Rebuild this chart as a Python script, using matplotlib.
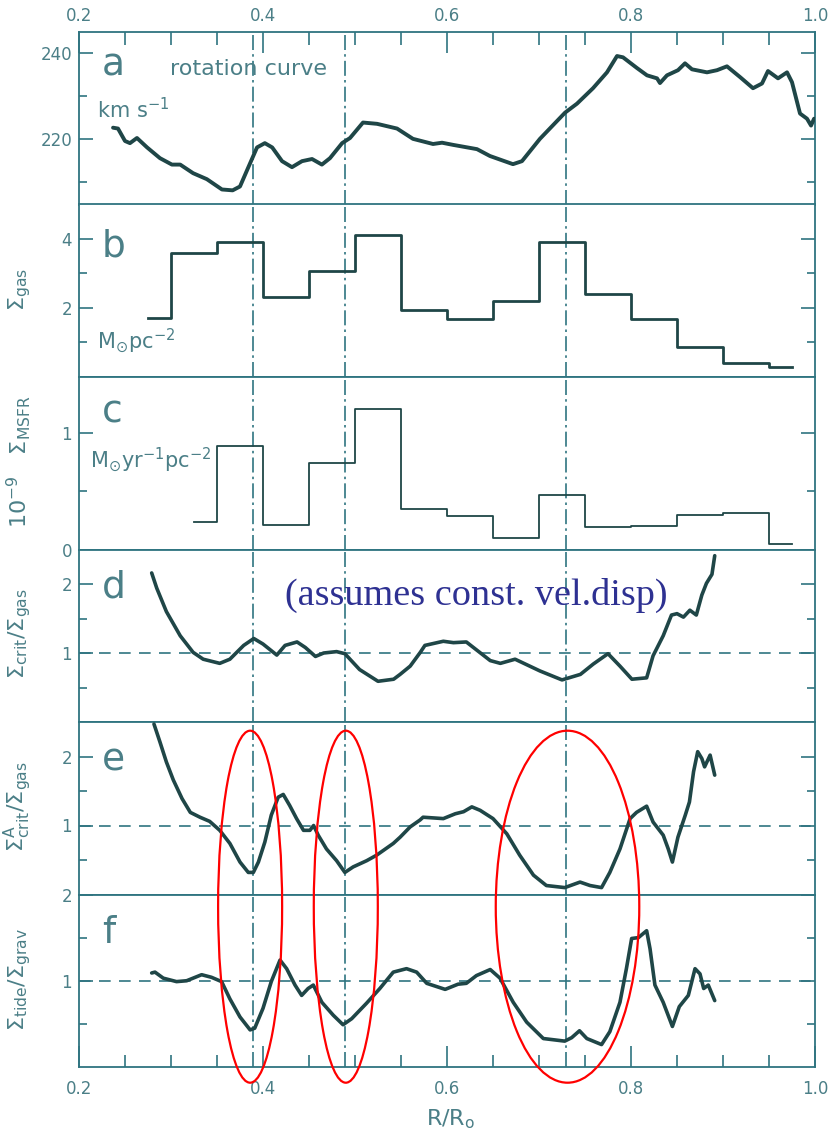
import matplotlib
matplotlib.use('Agg')
import matplotlib.pyplot as plt
from matplotlib.patches import Ellipse
from matplotlib.transforms import blended_transform_factory
from matplotlib.ticker import FixedLocator

# ---------------- data ----------------
# panel a: rotation curve (km/s)
rot_R = [0.237, 0.2424, 0.250, 0.2554, 0.263, 0.274, 0.288, 0.301, 0.310, 0.324, 0.339, 0.3554, 0.367,
         0.375, 0.3837, 0.3935, 0.402, 0.410, 0.4207, 0.4315, 0.4424, 0.4533, 0.464, 0.4728, 0.486,
         0.4946, 0.5087, 0.524, 0.5457, 0.563, 0.5848, 0.5946, 0.6065, 0.6326, 0.6467, 0.6717, 0.6815,
         0.701, 0.7283, 0.7413, 0.7587, 0.7739, 0.7848, 0.7913, 0.8065, 0.8174, 0.8283, 0.8315, 0.8391,
         0.8511, 0.8587, 0.8663, 0.8826, 0.8935, 0.9043, 0.9185, 0.9326, 0.9424, 0.9489, 0.9598, 0.9696,
         0.975, 0.9837, 0.9913, 0.9957, 0.999]
rot_v = [222.6, 222.4, 219.5, 219.0, 220.2, 218.0, 215.5, 214.0, 214.0, 212.0, 210.6, 208.2, 208.0,
         208.9, 213.2, 218.0, 219.0, 218.0, 214.8, 213.4, 214.8, 215.3, 214.0, 215.5, 219.0,
         220.2, 223.8, 223.5, 222.4, 220.0, 218.8, 219.1, 218.6, 217.6, 216.0, 214.1, 214.8,
         220.0, 226.1, 228.2, 231.8, 235.5, 239.3, 239.0, 236.5, 234.8, 234.1, 233.0, 234.8,
         236.0, 237.6, 236.2, 235.5, 236.0, 236.9, 234.4, 231.8, 232.9, 235.8, 234.1, 235.5,
         233.2, 225.9, 224.7, 223.1, 224.7]

# panel b: gas surface density (bin centres, steps)
gas_R = [0.275, 0.325, 0.375, 0.425, 0.475, 0.525, 0.575, 0.625, 0.675, 0.725, 0.775, 0.825, 0.875, 0.925, 0.975]
gas_S = [1.71, 3.58, 3.91, 2.32, 3.07, 4.12, 1.95, 1.68, 2.21, 3.91, 2.40, 1.68, 0.87, 0.41, 0.30]

# panel c: star formation rate surface density
sfr_R = [0.325, 0.375, 0.425, 0.475, 0.525, 0.575, 0.625, 0.675, 0.725, 0.775, 0.825, 0.875, 0.925, 0.975]
sfr_S = [0.237, 0.885, 0.208, 0.742, 1.205, 0.348, 0.285, 0.10, 0.468, 0.19, 0.20, 0.30, 0.31, 0.05]

# panel d: Sigma_crit / Sigma_gas
d_R = [0.279, 0.2845, 0.295, 0.310, 0.324, 0.335, 0.353, 0.364, 0.379, 0.390, 0.400, 0.415, 0.424, 0.437,
       0.446, 0.457, 0.466, 0.480, 0.489, 0.505, 0.525, 0.542, 0.549, 0.560, 0.571, 0.576, 0.596, 0.607,
       0.621, 0.647, 0.658, 0.674, 0.701, 0.725, 0.745, 0.759, 0.775, 0.788, 0.801, 0.817, 0.824, 0.835,
       0.844, 0.850, 0.857, 0.864, 0.871, 0.877, 0.882, 0.888, 0.891]
d_val = [2.16, 1.94, 1.60, 1.25, 1.01, 0.91, 0.85, 0.91, 1.11, 1.21, 1.13, 0.97, 1.11, 1.16,
         1.08, 0.95, 1.00, 1.02, 0.99, 0.76, 0.59, 0.62, 0.69, 0.81, 1.01, 1.11, 1.17, 1.15,
         1.16, 0.89, 0.85, 0.91, 0.74, 0.61, 0.69, 0.84, 0.99, 0.81, 0.62, 0.64, 0.96, 1.25,
         1.55, 1.57, 1.52, 1.62, 1.55, 1.84, 2.01, 2.14, 2.41]

# panel e: Sigma^A_crit / Sigma_gas
e_R = [0.2815, 0.288, 0.295, 0.3025, 0.312, 0.321, 0.3315, 0.342, 0.353, 0.364, 0.375, 0.384, 0.3895,
       0.395, 0.402, 0.409, 0.4165, 0.422, 0.429, 0.4365, 0.444, 0.451, 0.455, 0.460, 0.469, 0.480,
       0.489, 0.498, 0.5127, 0.5235, 0.5416, 0.549, 0.560, 0.5707, 0.574, 0.596, 0.609, 0.618, 0.627,
       0.636, 0.650, 0.665, 0.679, 0.694, 0.708, 0.728, 0.7446, 0.7555, 0.768, 0.777, 0.788, 0.799,
       0.806, 0.817, 0.824, 0.835, 0.8405, 0.845, 0.851, 0.859, 0.8635, 0.868, 0.8725, 0.877, 0.880,
       0.886, 0.891]
e_val = [2.47, 2.21, 1.92, 1.66, 1.39, 1.19, 1.12, 1.06, 0.93, 0.74, 0.47, 0.32, 0.32,
         0.47, 0.76, 1.15, 1.41, 1.45, 1.29, 1.10, 0.93, 0.93, 1.00, 0.86, 0.66, 0.49,
         0.32, 0.40, 0.49, 0.57, 0.74, 0.83, 0.98, 1.08, 1.12, 1.10, 1.17, 1.20, 1.27,
         1.22, 1.10, 0.88, 0.57, 0.28, 0.13, 0.10, 0.18, 0.13, 0.10, 0.32, 0.66, 1.10,
         1.19, 1.28, 1.05, 0.86, 0.66, 0.47, 0.83, 1.15, 1.34, 1.78, 2.07, 1.97, 1.85,
         2.02, 1.73]

# panel f: Sigma_tide / Sigma_grav
f_R = [0.279, 0.2826, 0.2916, 0.306, 0.317, 0.3333, 0.344, 0.355, 0.364, 0.375, 0.386, 0.391, 0.400,
       0.409, 0.4185, 0.4257, 0.4348, 0.442, 0.449, 0.4547, 0.464, 0.4764, 0.487, 0.4964, 0.5126,
       0.527, 0.5416, 0.556, 0.567, 0.578, 0.598, 0.612, 0.621, 0.632, 0.647, 0.6576, 0.672, 0.6866,
       0.7047, 0.728, 0.7355, 0.744, 0.752, 0.768, 0.777, 0.788, 0.795, 0.8007, 0.808, 0.817, 0.8207,
       0.826, 0.835, 0.845, 0.8525, 0.8623, 0.8696, 0.875, 0.879, 0.884, 0.891]
f_val = [1.09, 1.10, 1.03, 0.99, 1.00, 1.07, 1.04, 0.99, 0.79, 0.58, 0.43, 0.45, 0.68,
         0.99, 1.24, 1.14, 0.95, 0.83, 0.91, 0.95, 0.75, 0.60, 0.49, 0.56, 0.74,
         0.91, 1.10, 1.14, 1.10, 0.97, 0.90, 0.96, 0.97, 1.06, 1.13, 1.03, 0.75, 0.52,
         0.33, 0.30, 0.34, 0.42, 0.33, 0.26, 0.41, 0.75, 1.14, 1.49, 1.50, 1.58, 1.37,
         0.95, 0.75, 0.47, 0.70, 0.83, 1.14, 1.08, 0.91, 0.95, 0.77]

vlines_R = [0.389, 0.489, 0.729]
x_major = [0.2, 0.4, 0.6, 0.8, 1.0]
x_labels = ['0.2', '0.4', '0.6', '0.8', '1.0']
x_minor = [0.25, 0.3, 0.35, 0.45, 0.5, 0.55, 0.65, 0.7, 0.75, 0.85, 0.9, 0.95]

# red ellipses: (centre R, width in R)
ell_R = [0.386, 0.490, 0.731]
ell_W = [0.0696, 0.0696, 0.156]

# ---------------- style ----------------
CURVE = '#1f4647'
AXC = '#2f7480'
TXT = '#4b7f87'

W, H = 838, 1133
fig = plt.figure(figsize=(W / 100, H / 100), dpi=100)
left = 79 / W
width = 736 / W
edges = [32, 204.5, 377, 549.5, 722, 894.5, 1067]

ylims = [(204.7, 244.9), (0, 5), (0, 1.48), (0, 2.5), (0, 2.5), (0, 2.0)]
ymaj = [[220, 240], [2, 4], [0, 1], [1, 2], [1, 2], [1, 2]]
ymaj_lab = [['220', '240'], ['2', '4'], ['0', '1'], ['1', '2'], ['1', '2'], ['1', '2']]
ymin = [[210, 230], [1, 3], [0.5], [0.5, 1.5], [0.5, 1.5], [0.5, 1.5]]

axes = []
for i in range(6):
    top, bot = edges[i], edges[i + 1]
    ax = fig.add_axes([left, 1 - bot / H, width, (bot - top) / H])
    ax.set_xlim(0.2, 1.0)
    ax.set_ylim(*ylims[i])
    for sp in ax.spines.values():
        sp.set_color(AXC)
        sp.set_linewidth(1.3)
    ax.yaxis.set_major_locator(FixedLocator(ymaj[i]))
    ax.set_yticklabels(ymaj_lab[i])
    ax.yaxis.set_minor_locator(FixedLocator(ymin[i]))
    ax.tick_params(axis='y', which='both', direction='in', left=True, right=True,
                   color=AXC, labelcolor=TXT, labelsize=12, pad=5, width=1.2)
    ax.tick_params(axis='y', which='major', length=10)
    ax.tick_params(axis='y', which='minor', length=6)
    if i == 0:
        ax.xaxis.tick_top()
        ax.xaxis.set_major_locator(FixedLocator(x_major))
        ax.set_xticklabels(x_labels)
        ax.xaxis.set_minor_locator(FixedLocator(x_minor))
        ax.tick_params(axis='x', which='both', direction='in', top=True, bottom=False,
                       labeltop=True, labelbottom=False, color=AXC, labelcolor=TXT,
                       labelsize=12, pad=5, width=1.2)
        ax.tick_params(axis='x', which='major', length=15)
        ax.tick_params(axis='x', which='minor', length=9)
    elif i == 5:
        ax.xaxis.set_major_locator(FixedLocator(x_major))
        ax.set_xticklabels(x_labels)
        ax.xaxis.set_minor_locator(FixedLocator(x_minor))
        ax.tick_params(axis='x', which='both', direction='in', top=False, bottom=True,
                       color=AXC, labelcolor=TXT, labelsize=12, pad=9, width=1.2)
        ax.tick_params(axis='x', which='major', length=15)
        ax.tick_params(axis='x', which='minor', length=9)
    else:
        ax.set_xticks([])
    for xv in vlines_R:
        ax.axvline(xv, color=AXC, lw=1.2, dashes=(9, 2.5, 1.5, 2.5), zorder=1)
    axes.append(ax)

axa, axb, axc, axd, axe, axf = axes

# curves
axa.plot(rot_R, rot_v, color=CURVE, lw=2.8, solid_joinstyle='round', solid_capstyle='round', zorder=3)
axb.plot(gas_R, gas_S, drawstyle='steps-mid', color=CURVE, lw=2.0, zorder=3)
axc.plot(sfr_R, sfr_S, drawstyle='steps-mid', color=CURVE, lw=1.3, zorder=3)
for ax, xs, ys in [(axd, d_R, d_val), (axe, e_R, e_val), (axf, f_R, f_val)]:
    ax.axhline(1.0, color=AXC, lw=1.2, dashes=(7, 5), zorder=1)
    ax.plot(xs, ys, color=CURVE, lw=2.6, solid_joinstyle='round', solid_capstyle='round', zorder=3)

# panel letters
letters = ['a', 'b', 'c', 'd', 'e', 'f']
base_y = [0.749, 0.70, 0.734, 0.72, 0.72, 0.717]
for ax, l, by in zip(axes, letters, base_y):
    ax.text(0.031, by, l, transform=ax.transAxes, fontsize=27, color=TXT, va='baseline',
            ha='left')

axa.text(0.124, 0.749, 'rotation curve', transform=axa.transAxes, fontsize=16, color=TXT,
         va='baseline', ha='left')
axa.text(0.0245, 0.503, r'km s$^{-1}$', transform=axa.transAxes, fontsize=15, color=TXT,
         va='baseline', ha='left')
axb.text(0.0245, 0.167, r'M$_{\odot}$pc$^{-2}$', transform=axb.transAxes, fontsize=15, color=TXT,
         va='baseline', ha='left')
axc.text(0.015, 0.48, r'M$_{\odot}$yr$^{-1}$pc$^{-2}$', transform=axc.transAxes, fontsize=15,
         color=TXT, va='baseline', ha='left')

# y labels
ylabs = [None, r'$\Sigma_{\rm gas}$', r'$10^{-9}\ \ \ \Sigma_{\rm MSFR}$',
         r'$\Sigma_{\rm crit}/\Sigma_{\rm gas}$', r'$\Sigma^{\rm A}_{\rm crit}/\Sigma_{\rm gas}$',
         r'$\Sigma_{\rm tide}/\Sigma_{\rm grav}$']
for ax, lab in zip(axes, ylabs):
    if lab:
        ax.set_ylabel(lab, fontsize=16, color=TXT)
        ax.yaxis.set_label_coords(-0.062, 0.51)

axf.set_xlabel(r'R/R$_{\rm o}$', fontsize=16, color=TXT)
axf.xaxis.set_label_coords(0.505, -0.237)

# annotation
axd.text(0.28, 0.68, '(assumes const. vel.disp)', transform=axd.transAxes,
         fontsize=27.5, color='#2e3192', family='Liberation Serif', va='baseline', ha='left')

# red ellipses
btf = blended_transform_factory(axf.transData, fig.transFigure)
yc = 1 - 906.7 / H
eh = 352 / H
for xc, wv in zip(ell_R, ell_W):
    e = Ellipse((xc, yc), wv, eh, transform=btf, fill=False, edgecolor='#ff0000', lw=1.6,
                clip_on=False, zorder=10)
    fig.add_artist(e)

fig.savefig('out.png', dpi=100)
